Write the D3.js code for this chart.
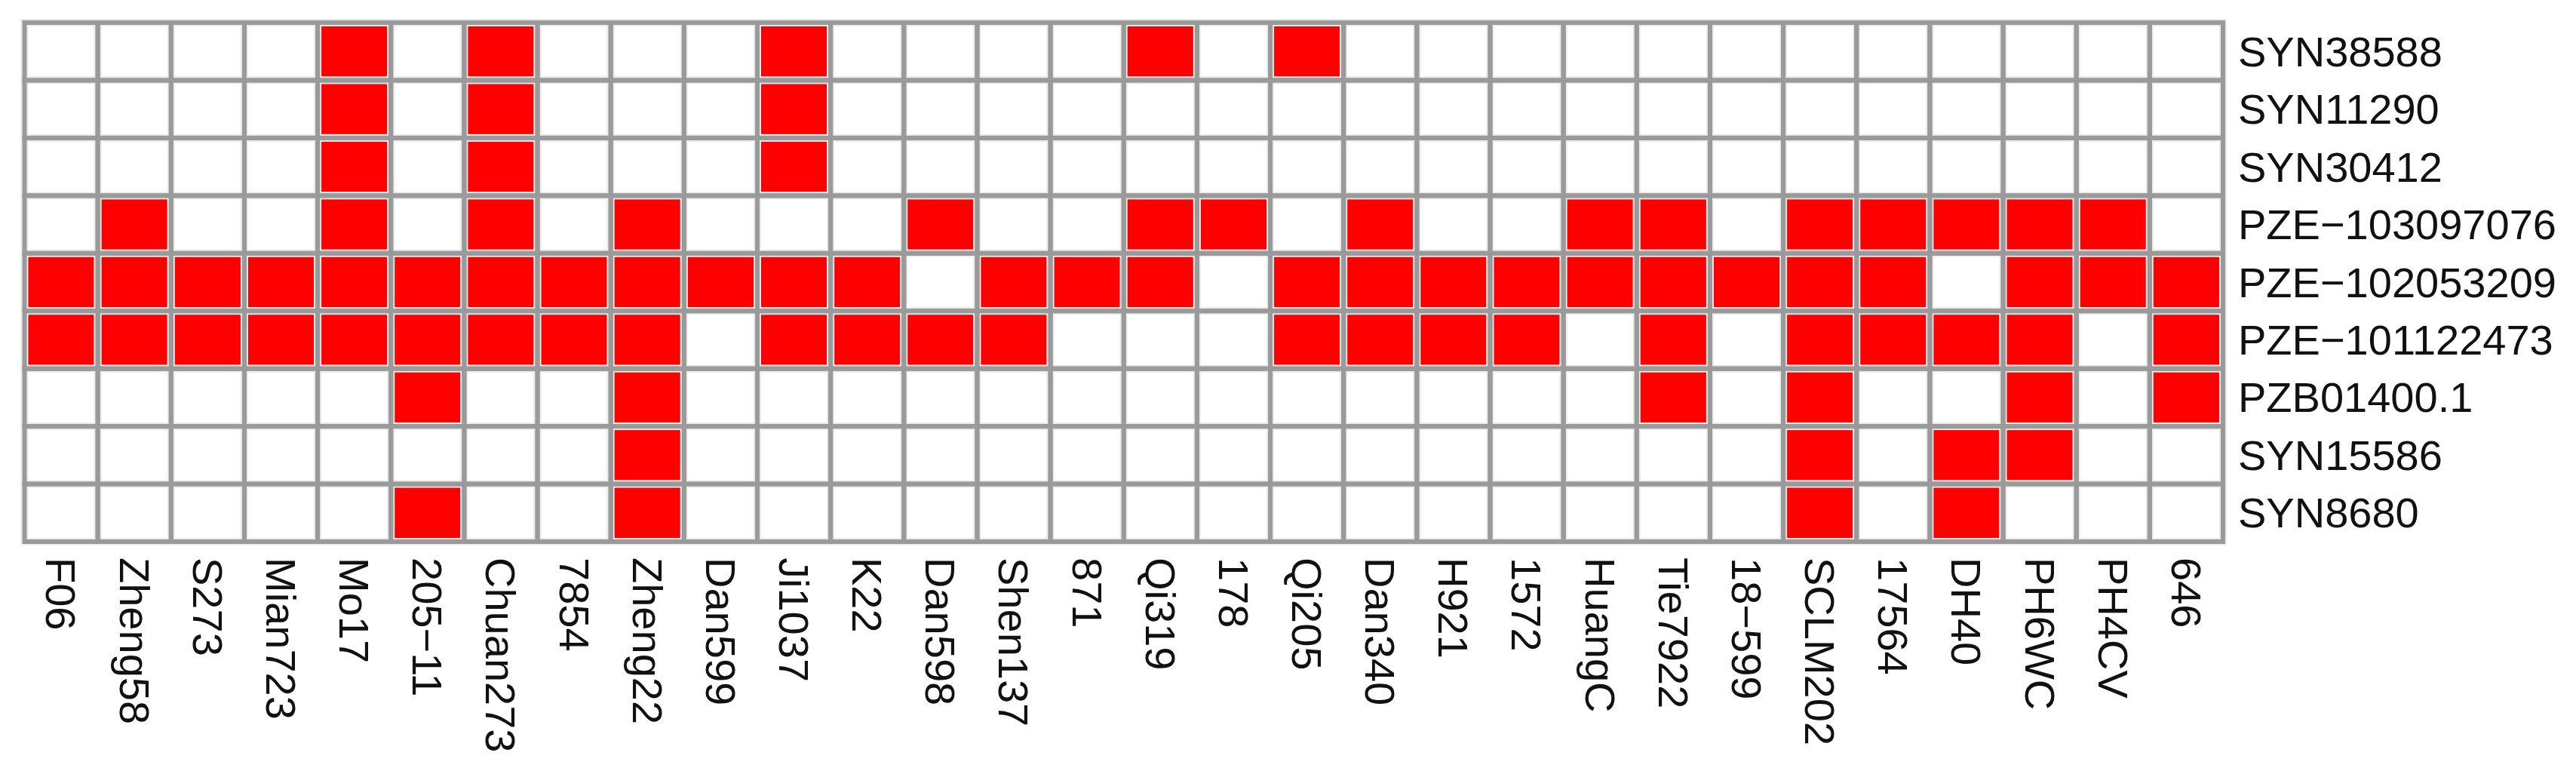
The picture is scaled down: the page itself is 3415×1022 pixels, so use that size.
<!DOCTYPE html>
<html>
<head>
<meta charset="utf-8">
<script src="https://cdn.jsdelivr.net/npm/d3@7"></script>
<style>
html, body { margin: 0; padding: 0; background: #ffffff; }
svg { display: block; }
</style>
</head>
<body>
<svg id="chart" width="3415" height="1022"></svg>
<script>
// ---- data ----
const lines = ["F06","Zheng58","S273","Mian723","Mo17","205\u221211","Chuan273","7854","Zheng22","Dan599",
  "Ji1037","K22","Dan598","Shen137","871","Qi319","178","Qi205","Dan340","H921",
  "1572","HuangC","Tie7922","18\u2212599","SCLM202","17564","DH40","PH6WC","PH4CV","646"];

const markers = ["SYN38588","SYN11290","SYN30412","PZE\u2212103097076","PZE\u2212102053209",
  "PZE\u2212101122473","PZB01400.1","SYN15586","SYN8680"];

// 1 = present (red), 0 = absent (white); one array per marker, in line order
const SYN38588      = [0,0,0,0,1,0,1,0,0,0, 1,0,0,0,0,1,0,1,0,0, 0,0,0,0,0,0,0,0,0,0];
const SYN11290      = [0,0,0,0,1,0,1,0,0,0, 1,0,0,0,0,0,0,0,0,0, 0,0,0,0,0,0,0,0,0,0];
const SYN30412      = [0,0,0,0,1,0,1,0,0,0, 1,0,0,0,0,0,0,0,0,0, 0,0,0,0,0,0,0,0,0,0];
const PZE103097076  = [0,1,0,0,1,0,1,0,1,0, 0,0,1,0,0,1,1,0,1,0, 0,1,1,0,1,1,1,1,1,0];
const PZE102053209  = [1,1,1,1,1,1,1,1,1,1, 1,1,0,1,1,1,0,1,1,1, 1,1,1,1,1,1,0,1,1,1];
const PZE101122473  = [1,1,1,1,1,1,1,1,1,0, 1,1,1,1,0,0,0,1,1,1, 1,0,1,0,1,1,1,1,0,1];
const PZB01400_1    = [0,0,0,0,0,1,0,0,1,0, 0,0,0,0,0,0,0,0,0,0, 0,0,1,0,1,0,0,1,0,1];
const SYN15586      = [0,0,0,0,0,0,0,0,1,0, 0,0,0,0,0,0,0,0,0,0, 0,0,0,0,1,0,1,1,0,0];
const SYN8680       = [0,0,0,0,0,1,0,0,1,0, 0,0,0,0,0,0,0,0,0,0, 0,0,0,0,1,0,1,0,0,0];

const matrix = [SYN38588, SYN11290, SYN30412, PZE103097076, PZE102053209,
                PZE101122473, PZB01400_1, SYN15586, SYN8680];

// ---- layout ----
const gLeft = 32.5, gRight = 2947, gTop = 30, gBottom = 718;
const gridColor = "#9a9a9a";
const fontFamily = "'Liberation Sans', Arial, Helvetica, sans-serif";

const svg = d3.select("#chart");
svg.append("rect").attr("width", 3415).attr("height", 1022).attr("fill", "#ffffff");

const x = d3.scaleBand().domain(lines).range([gLeft, gRight]).padding(0);
const y = d3.scaleBand().domain(markers).range([gTop, gBottom]).padding(0);
const color = d3.scaleOrdinal().domain([0, 1]).range(["#ffffff", "#ff0000"]);

const cells = [];
markers.forEach((m, i) => {
  lines.forEach((l, j) => cells.push({ marker: m, line: l, v: matrix[i][j] }));
});

// light halo under grid lines
svg.append("g").selectAll("rect").data(cells).join("rect")
  .attr("x", d => x(d.line))
  .attr("y", d => y(d.marker))
  .attr("width", x.bandwidth())
  .attr("height", y.bandwidth())
  .attr("fill", d => color(d.v))
  .attr("stroke", "#ececec")
  .attr("stroke-width", 10);

svg.append("g").selectAll("rect").data(cells).join("rect")
  .attr("x", d => x(d.line))
  .attr("y", d => y(d.marker))
  .attr("width", x.bandwidth())
  .attr("height", y.bandwidth())
  .attr("fill", "none")
  .attr("stroke", gridColor)
  .attr("stroke-width", 6);

// ---- axes (labels only) ----
const xAxis = svg.append("g")
  .attr("transform", `translate(0,${gBottom})`)
  .call(d3.axisBottom(x).tickSize(0));
xAxis.select(".domain").remove();
xAxis.selectAll("text")
  .attr("x", 21)
  .attr("y", 0)
  .attr("dy", "0.35em")
  .attr("transform", "rotate(90)")
  .style("text-anchor", "start")
  .style("font-family", fontFamily)
  .style("font-size", "56px")
  .attr("fill", "#111111");

const yAxis = svg.append("g")
  .attr("transform", `translate(${gRight},0)`)
  .call(d3.axisRight(y).tickSize(0));
yAxis.select(".domain").remove();
yAxis.selectAll("text")
  .attr("x", 20)
  .attr("dy", "0.35em")
  .style("text-anchor", "start")
  .style("font-family", fontFamily)
  .style("font-size", "56px")
  .attr("fill", "#111111");
</script>
</body>
</html>
